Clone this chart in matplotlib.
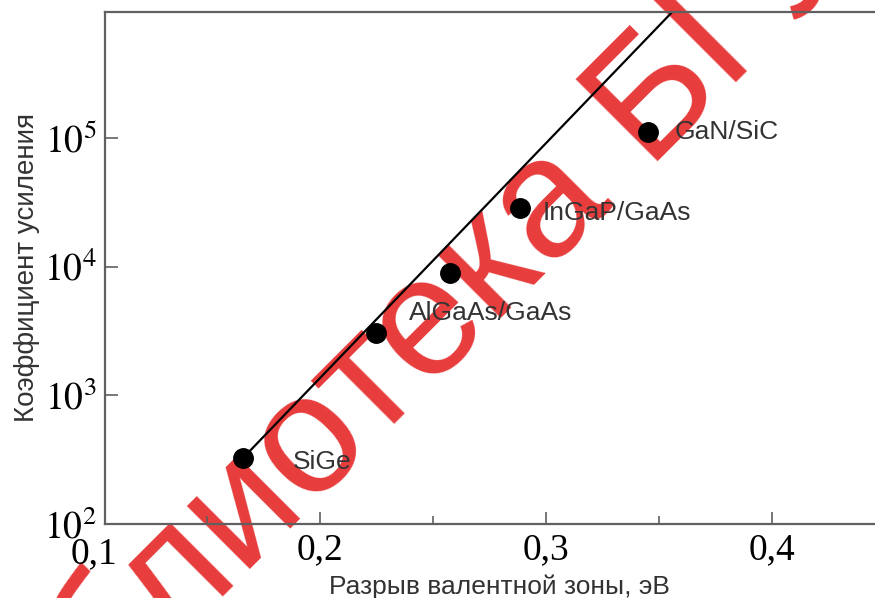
import matplotlib
matplotlib.use("Agg")
import matplotlib.pyplot as plt
import matplotlib.ticker as mtick

# --- data ---
band_offset = [0.166, 0.225, 0.2575, 0.2885, 0.345]
gain = [326, 3050, 8900, 28500, 111000]
point_names = ["SiGe", "AlGaAs/GaAs", "", "InGaP/GaAs", "GaN/SiC"]

fit_x = [0.166, 0.3558]
fit_y = [326, 9.5e5]

x_ticks = [0.1, 0.2, 0.3, 0.4]
x_tick_labels = ["0,1", "0,2", "0,3", "0,4"]
x_minor = [0.15, 0.25, 0.35]
y_ticks = [1e2, 1e3, 1e4, 1e5]
y_tick_labels = [r"$10^{2}$", r"$10^{3}$", r"$10^{4}$", r"$10^{5}$"]

xlabel = "Разрыв валентной зоны, эВ"
ylabel = "Коэффициент усиления"
watermark = "Библиотека БГУИР"

# label offsets from each point, pixels
label_offsets = [(50, -4), (33, 20), (0, 0), (23, -5), (27, 0)]

plt.rcParams.update({
    "font.family": "sans-serif",
    "font.sans-serif": ["Liberation Sans", "DejaVu Sans"],
    "mathtext.fontset": "stix",
})

TXT = "#333333"
SPINE = "#606060"

fig = plt.figure(figsize=(8.75, 5.98), dpi=100)
ax = fig.add_axes([105 / 875, 1 - 524 / 598, 770 / 875, 512 / 598])

# watermark behind the data
ax.text(-36 / 875, 1 - 856 / 598, watermark, transform=fig.transFigure,
        rotation=45, rotation_mode="anchor", ha="left", va="baseline",
        fontsize=122, color="#e52b2b", alpha=0.92, zorder=0, clip_on=False)

ax.plot(fit_x, fit_y, color="black", lw=1.6, zorder=2, solid_capstyle="butt")
ax.plot(band_offset, gain, "o", color="black", ms=14, zorder=3)

for xv, yv, name, off in zip(band_offset, gain, point_names, label_offsets):
    if not name:
        continue
    ax.annotate(name, (xv, yv), xytext=off, textcoords="offset pixels",
                ha="left", va="center", fontsize=19, color=TXT)

ax.set_yscale("log")
ax.set_xlim(0.1049, 0.4456)
ax.set_ylim(1e2, 10 ** 5.979)

ax.set_xticks([t for t in x_ticks if t > 0.105])
ax.set_xticklabels([l for t, l in zip(x_ticks, x_tick_labels) if t > 0.105])
ax.xaxis.set_minor_locator(mtick.FixedLocator(x_minor))
ax.xaxis.set_minor_formatter(mtick.NullFormatter())
# the 0,1 label sits just left of the axis start
ax.text(x_ticks[0], -13 / 512, x_tick_labels[0], transform=ax.get_xaxis_transform(),
        ha="center", va="top", fontsize=27, family="Liberation Serif",
        color="black", clip_on=False)

ax.set_yticks(y_ticks)
ax.set_yticklabels(y_tick_labels)
ax.yaxis.set_minor_locator(mtick.NullLocator())

ax.tick_params(axis="both", which="major", direction="in", length=9, width=1.2,
               color=SPINE, labelsize=27, labelcolor="black")
ax.tick_params(axis="x", which="minor", direction="in", length=5.5, width=1.2,
               color=SPINE)
ax.tick_params(axis="x", which="major", pad=6)
ax.tick_params(axis="y", which="major", pad=6)
for lab in ax.get_xticklabels():
    lab.set_family("Liberation Serif")

for side in ["left", "top", "bottom"]:
    ax.spines[side].set_color(SPINE)
    ax.spines[side].set_linewidth(1.6)
ax.spines["right"].set_visible(False)

fig.text(499 / 875, 4 / 598, xlabel, ha="center", va="baseline",
         fontsize=19, color=TXT)
fig.text(27 / 875, 1 - 268 / 598, ylabel, rotation=90, ha="center", va="center",
         fontsize=20, color=TXT)

fig.savefig("out.png", dpi=100)
